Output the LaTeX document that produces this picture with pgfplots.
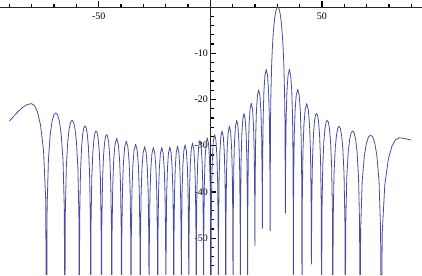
\documentclass[border=0pt]{standalone}
\usepackage{fontspec}
\setmainfont{Liberation Serif}
\usepackage{pgfplots}
\pgfplotsset{compat=1.18}
\definecolor{mma}{rgb}{0.30,0.30,0.62}
\begin{document}
\begin{tikzpicture}
\begin{axis}[
 width=422bp, height=275bp, scale only axis,
 xmin=-94.01, xmax=94.64, ymin=-57.95, ymax=1.447,
 axis lines=middle, axis line style={-, black!85, line width=0.7bp},
 xtick={-50,50}, xticklabels={-50,50},
 minor xtick={-90,-80,-70,-60,-40,-30,-20,-10,10,20,30,40,60,70,80,90},
 ytick={-50,-40,-30,-20,-10}, yticklabels={-50,-40,-30,-20,-10},
 minor ytick={-56,-54,-52,-48,-46,-44,-42,-38,-36,-34,-32,-28,-26,-24,-22,-18,-16,-14,-12,-8,-6,-4,-2},
 xtick align=inside, ytick align=inside,
 major tick length=6bp, minor tick length=3.5bp,
 every tick/.style={black, line width=1.2bp},
 ticklabel style={font=\fontsize{10}{11}\selectfont},
 xticklabel style={yshift=-2.5bp},
 yticklabel style={xshift=1bp},
 clip=true,
]
\addplot[mma, line width=0.8bp, line join=round] coordinates {
(-90,-24.7) (-88,-23.6) (-86,-22.6) (-84,-21.7) (-82,-21.1) (-80.1,-20.9) (-78.75,-21.3) (-77.39,-22.7) (-76.03,-25.5) (-74.67,-31.1) (-73.72,-41.4)
(-73.31,-75) (-73.07,-43.4) (-72.49,-33.1) (-71.67,-27.5) (-70.86,-24.7) (-70.04,-23.3) (-69.22,-22.9) (-68.40,-23.3) (-67.58,-24.7) (-66.77,-27.5) (-65.95,-33.1) (-65.38,-43.4)
(-65.13,-75) (-64.94,-45.0) (-64.48,-34.7) (-63.83,-29.1) (-63.19,-26.3) (-62.54,-24.9) (-61.89,-24.5) (-61.24,-24.9) (-60.59,-26.3) (-59.95,-29.1) (-59.30,-34.7) (-58.84,-45.0)
(-58.65,-75) (-58.50,-46.2) (-58.14,-35.9) (-57.63,-30.3) (-57.12,-27.5) (-56.61,-26.1) (-56.10,-25.7) (-55.59,-26.1) (-55.08,-27.5) (-54.57,-30.3) (-54.06,-35.9) (-53.70,-46.2)
(-53.55,-75) (-53.41,-47.3) (-53.07,-37.0) (-52.59,-31.4) (-52.10,-28.6) (-51.62,-27.2) (-51.14,-26.8) (-50.66,-27.2) (-50.18,-28.6) (-49.69,-31.4) (-49.21,-37.0) (-48.88,-47.3)
(-48.73,-75) (-48.59,-48.1) (-48.27,-37.8) (-47.81,-32.2) (-47.35,-29.4) (-46.89,-28.0) (-46.43,-27.6) (-45.96,-28.0) (-45.50,-29.4) (-45.04,-32.2) (-44.58,-37.8) (-44.26,-48.1)
(-44.12,-75) (-43.99,-48.9) (-43.68,-38.6) (-43.24,-33.0) (-42.67,-29.7) (-41.93,-28.4) (-41.19,-29.7) (-40.62,-33.0) (-40.18,-38.6) (-39.87,-48.9)
(-39.74,-75) (-39.61,-49.5) (-39.32,-39.2) (-38.89,-33.6) (-38.34,-30.3) (-37.62,-29.0) (-36.89,-30.3) (-36.34,-33.6) (-35.92,-39.2) (-35.62,-49.5)
(-35.49,-75) (-35.37,-50.2) (-35.08,-39.9) (-34.67,-34.3) (-34.13,-31.0) (-33.44,-29.7) (-32.74,-31.0) (-32.20,-34.3) (-31.79,-39.9) (-31.50,-50.2)
(-31.38,-75) (-31.26,-50.7) (-30.98,-40.4) (-30.58,-34.8) (-30.07,-31.5) (-29.39,-30.2) (-28.71,-31.5) (-28.20,-34.8) (-27.80,-40.4) (-27.52,-50.7)
(-27.40,-75) (-27.29,-50.9) (-27.02,-40.6) (-26.63,-35.0) (-26.13,-31.7) (-25.48,-30.4) (-24.83,-31.7) (-24.33,-35.0) (-23.94,-40.6) (-23.68,-50.9)
(-23.56,-75) (-23.45,-50.9) (-23.19,-40.6) (-22.83,-35.0) (-22.35,-31.7) (-21.73,-30.4) (-21.10,-31.7) (-20.62,-35.0) (-20.26,-40.6) (-20.00,-50.9)
(-19.89,-75) (-19.78,-50.8) (-19.54,-40.5) (-19.18,-34.9) (-18.73,-31.6) (-18.13,-30.3) (-17.53,-31.6) (-17.07,-34.9) (-16.71,-40.5) (-16.47,-50.8)
(-16.36,-75) (-16.26,-50.6) (-16.02,-40.3) (-15.68,-34.7) (-15.24,-31.4) (-14.66,-30.1) (-14.08,-31.4) (-13.64,-34.7) (-13.30,-40.3) (-13.06,-50.6)
(-12.96,-75) (-12.86,-50.3) (-12.63,-40.0) (-12.29,-34.4) (-11.85,-31.1) (-11.29,-29.8) (-10.72,-31.1) (-10.28,-34.4) (-9.95,-40.0) (-9.71,-50.3)
(-9.61,-75) (-9.51,-49.9) (-9.28,-39.6) (-8.95,-34.0) (-8.52,-30.7) (-7.96,-29.4) (-7.39,-30.7) (-6.96,-34.0) (-6.63,-39.6) (-6.40,-49.9)
(-6.30,-75) (-6.20,-49.4) (-5.97,-39.1) (-5.64,-33.5) (-5.21,-30.2) (-4.65,-28.9) (-4.09,-30.2) (-3.66,-33.5) (-3.33,-39.1) (-3.10,-49.4)
(-3.00,-75) (-2.90,-48.8) (-2.67,-38.5) (-2.34,-32.9) (-1.91,-29.6) (-1.35,-28.3) (-0.78,-29.6) (-0.35,-32.9) (-0.02,-38.5) (0.21,-48.8)
(0.31,-75) (0.41,-48.1) (0.64,-37.8) (0.97,-32.2) (1.40,-28.9) (1.97,-27.6) (2.53,-28.9) (2.96,-32.2) (3.29,-37.8) (3.52,-48.1)
(3.62,-75) (3.72,-47.3) (3.95,-37.0) (4.28,-31.4) (4.71,-28.1) (5.28,-26.8) (5.84,-28.1) (6.27,-31.4) (6.60,-37.0) (6.83,-47.3)
(6.93,-75) (7.03,-46.3) (7.26,-36.0) (7.58,-30.4) (8.01,-27.1) (8.56,-25.8) (9.11,-27.1) (9.54,-30.4) (9.86,-36.0) (10.09,-46.3)
(10.19,-75) (10.29,-45.0) (10.52,-34.7) (10.84,-29.1) (11.27,-25.8) (11.83,-24.5) (12.38,-25.8) (12.81,-29.1) (13.13,-34.7) (13.36,-45.0)
(13.46,-75) (13.56,-43.5) (13.79,-33.2) (14.11,-27.6) (14.54,-24.3) (15.09,-23.0) (15.64,-24.3) (16.07,-27.6) (16.39,-33.2) (16.62,-43.5)
(16.72,-75) (16.82,-41.3) (17.05,-31.0) (17.37,-25.4) (17.80,-22.1) (18.35,-20.8) (18.90,-22.1) (19.33,-25.4) (19.65,-31.0) (19.88,-41.3)
(19.98,-51.6) (20.08,-38.4) (20.32,-28.1) (20.65,-22.5) (21.09,-19.2) (21.66,-17.9) (22.23,-19.2) (22.66,-22.5) (23.00,-28.1) (23.23,-38.4)
(23.33,-47.9) (23.43,-34.0) (23.68,-23.7) (24.02,-18.1) (24.47,-14.8) (25.06,-13.5) (25.64,-14.8) (26.09,-18.1) (26.44,-23.7) (26.68,-34.0)
(26.78,-48.4) (26.95,-25.6) (27.12,-19.23) (27.46,-12.62) (27.81,-8.69) (28.15,-5.94) (28.49,-3.92) (28.83,-2.42) (29.17,-1.33) (29.52,-0.58) (29.86,-0.14) (30.2,0) (30.54,-0.14) (30.88,-0.58) (31.23,-1.33) (31.57,-2.42) (31.91,-3.92) (32.25,-5.94) (32.59,-8.69) (32.94,-12.62) (33.28,-19.23) (33.45,-25.6)
(33.62,-44.6) (33.73,-34.0) (33.98,-23.7) (34.33,-18.1) (34.80,-14.8) (35.41,-13.5) (36.01,-14.8) (36.48,-18.1) (36.83,-23.7) (37.08,-34.0)
(37.19,-75) (37.31,-38.3) (37.58,-28.0) (37.97,-22.4) (38.47,-19.1) (39.14,-17.8) (39.80,-19.1) (40.30,-22.4) (40.69,-28.0) (40.96,-38.3)
(41.08,-75) (41.21,-41.4) (41.50,-31.1) (41.92,-25.5) (42.47,-22.2) (43.18,-20.9) (43.89,-22.2) (44.44,-25.5) (44.86,-31.1) (45.15,-41.4)
(45.28,-55.6) (45.42,-43.5) (45.74,-33.2) (46.19,-27.6) (46.65,-24.8) (47.10,-23.4) (47.56,-23.0) (48.02,-23.4) (48.47,-24.8) (48.93,-27.6) (49.38,-33.2) (49.70,-43.5)
(49.84,-75) (49.99,-45.0) (50.34,-34.7) (50.84,-29.1) (51.34,-26.3) (51.84,-24.9) (52.35,-24.5) (52.85,-24.9) (53.35,-26.3) (53.85,-29.1) (54.35,-34.7) (54.70,-45.0)
(54.85,-75) (55.02,-46.3) (55.41,-36.0) (55.97,-30.4) (56.53,-27.6) (57.09,-26.2) (57.65,-25.8) (58.20,-26.2) (58.76,-27.6) (59.32,-30.4) (59.88,-36.0) (60.27,-46.3)
(60.44,-75) (60.64,-47.3) (61.10,-37.0) (61.76,-31.4) (62.42,-28.6) (63.08,-27.2) (63.75,-26.8) (64.41,-27.2) (65.07,-28.6) (65.73,-31.4) (66.39,-37.0) (66.85,-47.3)
(67.05,-75) (67.33,-48.2) (68.00,-37.9) (68.95,-32.3) (69.89,-29.5) (70.84,-28.1) (71.79,-27.7) (72.74,-28.1) (73.69,-29.5) (74.63,-32.3) (75.58,-37.9) (76.25,-48.2)
(76.53,-75) (77.0,-48.8) (78.13,-38.5) (79.73,-32.9) (81.33,-30.1) (82.93,-28.7) (84.5,-28.3) (86,-28.35) (88,-28.55) (90,-28.8)
};
\end{axis}
\end{tikzpicture}
\end{document}
